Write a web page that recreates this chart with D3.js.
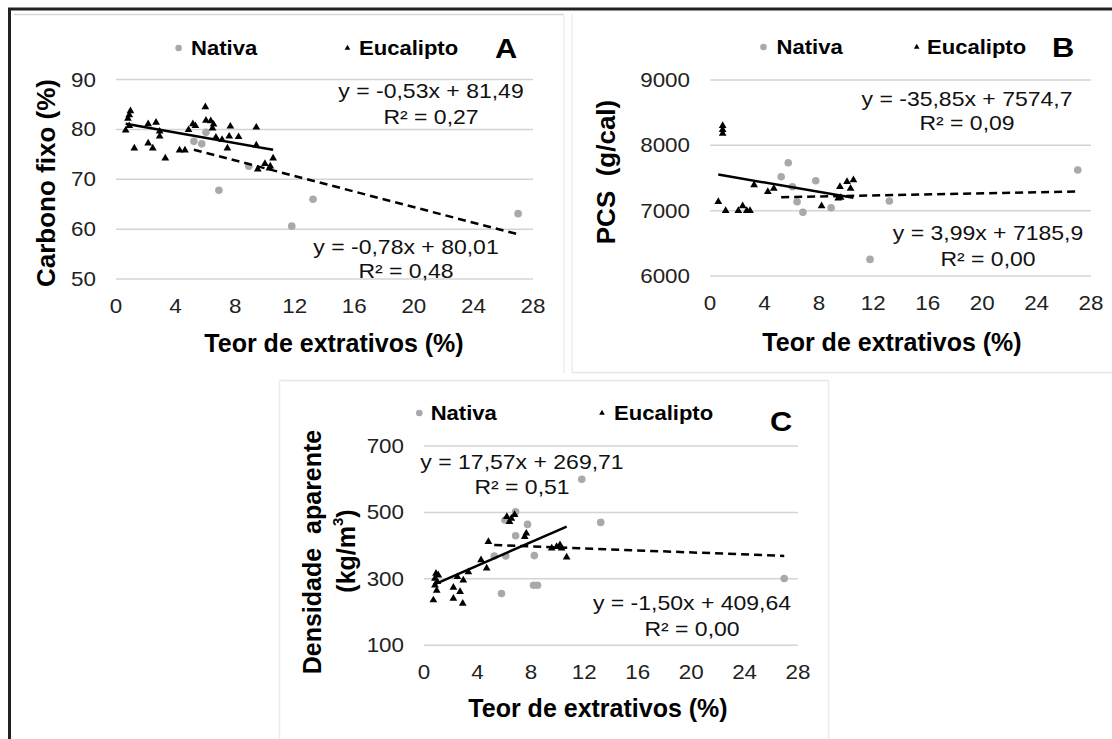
<!DOCTYPE html>
<html>
<head>
<meta charset="utf-8">
<script src="https://cdn.jsdelivr.net/npm/d3@7"></script>
<style>
  body { margin: 0; background: #fff; }
  svg { display: block; }
  text { font-family: "Liberation Sans", Arial, sans-serif; }
</style>
</head>
<body>
<svg id="chart" width="1112" height="739"></svg>
<script>
// ---- data ----
var xTicks = [0, 4, 8, 12, 16, 20, 24, 28];
var ticksA = [50, 60, 70, 80, 90];
var ticksB = [6000, 7000, 8000, 9000];
var ticksC = [100, 300, 500, 700];

// Carbono fixo (%)
var nativaA = [[5.23,77.6],[5.76,77.1],[6.04,79.4],[6.91,67.8],[8.92,72.6],[11.8,60.6],[13.23,66.0],[27.0,63.1]];
var eucaliptoA = [[0.65,79.8],[0.8,82.2],[0.89,82.9],[0.97,83.7],[0.89,80.7],[1.23,76.2],[2.16,81.1],[2.16,77.2],
  [2.47,76.2],[2.69,81.4],[2.93,79.6],[2.93,78.6],[3.31,74.2],[4.27,75.8],[4.63,75.8],[4.87,79.9],[5.16,81.1],
  [5.33,80.7],[6.0,84.5],[6.04,81.8],[6.36,81.7],[6.48,80.2],[6.55,81.0],[6.71,78.4],[7.12,77.9],[7.48,76.2],
  [7.68,80.6],[7.6,78.6],[8.23,78.5],[9.42,80.4],[9.42,76.8],[9.52,72.0],[10.0,73.1],[10.36,72.6],[10.55,74.2],[10.3,72.2]];

// PCS (g/cal)
var nativaB = [[5.23,7520],[5.75,7734],[6.06,7366],[6.4,7137],[6.83,6974],[7.77,7458],[8.9,7045],[11.76,6254],[13.18,7147],[27.03,7622]];
var eucaliptoB = [[0.61,7137],[0.93,8300],[0.93,8240],[0.93,8180],[1.15,7000],[2.08,7000],[2.4,7070],[2.7,7000],
  [2.94,7000],[3.24,7392],[4.25,7290],[4.69,7340],[8.2,7070],[9.42,7188],[9.55,7366],[10.07,7443],[10.33,7340],[10.54,7469],[9.6,7200]];

// Densidade aparente (kg/m3)
var nativaC = [[5.26,369],[5.8,256],[6.12,369],[6.06,477],[6.86,502],[6.86,430],[7.75,464],[8.26,370],[8.2,281],
  [8.5,281],[11.81,600],[13.23,470],[26.97,301]];
var eucaliptoC = [[0.7,236],[0.82,281],[0.82,301],[0.9,316],[1.0,291],[1.07,311],[0.95,265],[2.2,274],[2.2,241],
  [2.7,261],[2.9,226],[2.5,306],[2.94,296],[3.32,321],[4.27,357],[4.69,332],[4.82,412],[6.2,487],[6.4,472],
  [6.54,482],[6.78,493],[7.54,427],[7.66,437],[9.56,392],[9.93,397],[10.3,392],[10.18,402],[10.68,365]];

// trend lines [slope, intercept]
var fitEucA = [-0.53, 81.49], fitNatA = [-0.78, 80.01];
var fitEucB = [-35.85, 7574.7], fitNatB = [3.99, 7185.9];
var fitEucC = [17.57, 269.71], fitNatC = [-1.50, 409.64];

var eqA = ["y = -0,53x + 81,49", "R\u00b2 = 0,27", "y = -0,78x + 80,01", "R\u00b2 = 0,48"];
var eqB = ["y = -35,85x + 7574,7", "R\u00b2 = 0,09", "y = 3,99x + 7185,9", "R\u00b2 = 0,00"];
var eqC = ["y = 17,57x + 269,71", "R\u00b2 = 0,51", "y = -1,50x + 409,64", "R\u00b2 = 0,00"];

var svg = d3.select("#chart");
svg.append("rect").attr("width", 1112).attr("height", 739).attr("fill", "#fff");

// text helper, sx stretches horizontally like the source image
function txt(g, x, y, s, o) {
  o = o || {};
  var t = g.append("text")
    .attr("transform", "translate(" + x + "," + y + ")" + (o.rot ? " rotate(-90)" : "") + " scale(" + (o.sx || 1) + ",1)")
    .attr("text-anchor", o.anchor || "middle")
    .attr("dominant-baseline", "central")
    .attr("fill", o.fill || "#000")
    .style("font-size", (o.size || 18) + "px")
    .style("font-weight", o.bold ? "bold" : null)
    .style("white-space", "pre")
    .text(s);
  return t;
}

var tri = d3.symbol().type(d3.symbolTriangle).size(26);
var triSmall = d3.symbol().type(d3.symbolTriangle).size(14);

function panel(p) {
  var g = svg.append("g");
  var x = d3.scaleLinear().domain([0, 28]).range([p.left, p.right]);
  var y = d3.scaleLinear().domain([p.yTicks[0], p.yTicks[p.yTicks.length - 1]]).range([p.bottom, p.top]);

  // gridlines
  g.selectAll(".grid").data(p.yTicks).enter().append("line")
    .attr("x1", p.left).attr("x2", p.right)
    .attr("y1", function(d) { return y(d); }).attr("y2", function(d) { return y(d); })
    .attr("stroke", "#d4d4d4").attr("stroke-width", 1.5);

  // tick labels
  p.yTicks.forEach(function(d) { txt(g, p.left - 20, y(d), String(d), {anchor: "end", size: 20, sx: 1.12, fill: "#222"}); });
  xTicks.forEach(function(d) { txt(g, x(d), p.bottom + 27, String(d), {size: 20, sx: 1.12, fill: "#222"}); });

  // trend lines
  function trend(data, fit, dash) {
    var x0 = d3.min(data, function(d) { return d[0]; }), x1 = d3.max(data, function(d) { return d[0]; });
    g.append("line")
      .attr("x1", x(x0)).attr("y1", y(fit[0] * x0 + fit[1]))
      .attr("x2", x(x1)).attr("y2", y(fit[0] * x1 + fit[1]))
      .attr("stroke", "#000").attr("stroke-width", 2.5)
      .attr("stroke-dasharray", dash ? "8,5" : null);
  }

  // points
  g.selectAll(".nat").data(p.nativa).enter().append("circle")
    .attr("cx", function(d) { return x(d[0]); }).attr("cy", function(d) { return y(d[1]); })
    .attr("r", 3.8).attr("fill", "#a9a9a9");
  trend(p.nativa, p.fitNat, true);
  g.selectAll(".euc").data(p.euc).enter().append("path")
    .attr("d", tri)
    .attr("transform", function(d) { return "translate(" + x(d[0]) + "," + y(d[1]) + ")"; })
    .attr("fill", "#000");
  trend(p.euc, p.fitEuc, false);

  // legend
  g.append("circle").attr("cx", p.leg[0]).attr("cy", p.leg[1]).attr("r", 3.3).attr("fill", "#a9a9a9");
  txt(g, p.leg[2], p.leg[1], "Nativa", {anchor: "start", size: 21, bold: true, sx: 1.05});
  g.append("path").attr("d", triSmall).attr("transform", "translate(" + p.leg[3] + "," + p.leg[1] + ")").attr("fill", "#000");
  txt(g, p.leg[4], p.leg[1], "Eucalipto", {anchor: "start", size: 21, bold: true, sx: 1.05});
  txt(g, p.letter[0], p.letter[1], p.letter[2], {size: 28, bold: true, sx: 1.1});

  // equations
  txt(g, p.eq1[0], p.eq1[1], p.eq[0], {size: 20, sx: 1.15, fill: "#111"});
  txt(g, p.eq1[0], p.eq1[2], p.eq[1], {size: 20, sx: 1.15, fill: "#111"});
  txt(g, p.eq2[0], p.eq2[1], p.eq[2], {size: 20, sx: 1.15, fill: "#111"});
  txt(g, p.eq2[0], p.eq2[2], p.eq[3], {size: 20, sx: 1.15, fill: "#111"});

  // axis titles
  txt(g, p.xTitle[0], p.xTitle[1], "Teor de extrativos (%)", {size: 25, bold: true});
  return g;
}

// frame and panel borders
svg.append("line").attr("x1", 8).attr("x2", 1112).attr("y1", 9).attr("y2", 9).attr("stroke", "#222").attr("stroke-width", 3);
svg.append("line").attr("x1", 9.5).attr("x2", 9.5).attr("y1", 8).attr("y2", 739).attr("stroke", "#222").attr("stroke-width", 3);
var borders = [[14, 14.5, 564, 14.5, "#d6d6d6"], [564, 14, 564, 373, "#ececec"], [572, 14, 572, 372, "#ececec"],
  [572, 372.5, 1112, 372.5, "#e6e6e6"], [279, 380.5, 828, 380.5, "#e6e6e6"], [279.5, 380, 279.5, 739, "#ececec"], [828.5, 380, 828.5, 739, "#ececec"]];
borders.forEach(function(b) {
  svg.append("line").attr("x1", b[0]).attr("y1", b[1]).attr("x2", b[2]).attr("y2", b[3]).attr("stroke", b[4]).attr("stroke-width", 1.5);
});

var gA = panel({left: 116, right: 533, top: 79.5, bottom: 279, yTicks: ticksA,
  nativa: nativaA, euc: eucaliptoA, fitNat: fitNatA, fitEuc: fitEucA, eq: eqA,
  eq1: [431, 91, 117], eq2: [406, 247, 271],
  leg: [178.6, 48, 191, 347.5, 359], letter: [506, 48, "A"], xTitle: [334, 343]});
txt(gA, 46, 183, "Carbono fixo (%)", {size: 26, bold: true, rot: true});

var gB = panel({left: 710, right: 1091, top: 80, bottom: 276, yTicks: ticksB,
  nativa: nativaB, euc: eucaliptoB, fitNat: fitNatB, fitEuc: fitEucB, eq: eqB,
  eq1: [967, 99, 123], eq2: [988, 233, 259],
  leg: [763.5, 47, 776.5, 916.7, 927], letter: [1063, 47, "B"], xTitle: [892, 342]});
txt(gB, 606, 172, "PCS  (g/cal)", {size: 26, bold: true, rot: true});

var gC = panel({left: 424, right: 798, top: 446, bottom: 645.3, yTicks: ticksC,
  nativa: nativaC, euc: eucaliptoC, fitNat: fitNatC, fitEuc: fitEucC, eq: eqC,
  eq1: [522, 462, 487], eq2: [692, 603, 629],
  leg: [419.3, 413, 430.7, 602, 614], letter: [781, 421, "C"], xTitle: [598, 708]});
txt(gC, 312, 552, "Densidade  aparente", {size: 25, bold: true, rot: true});
var kg = txt(gC, 346, 551, "(kg/m", {size: 25, bold: true, rot: true});
kg.append("tspan").attr("baseline-shift", "super").style("font-size", "15px").text("3");
kg.append("tspan").text(")");
</script>
</body>
</html>
